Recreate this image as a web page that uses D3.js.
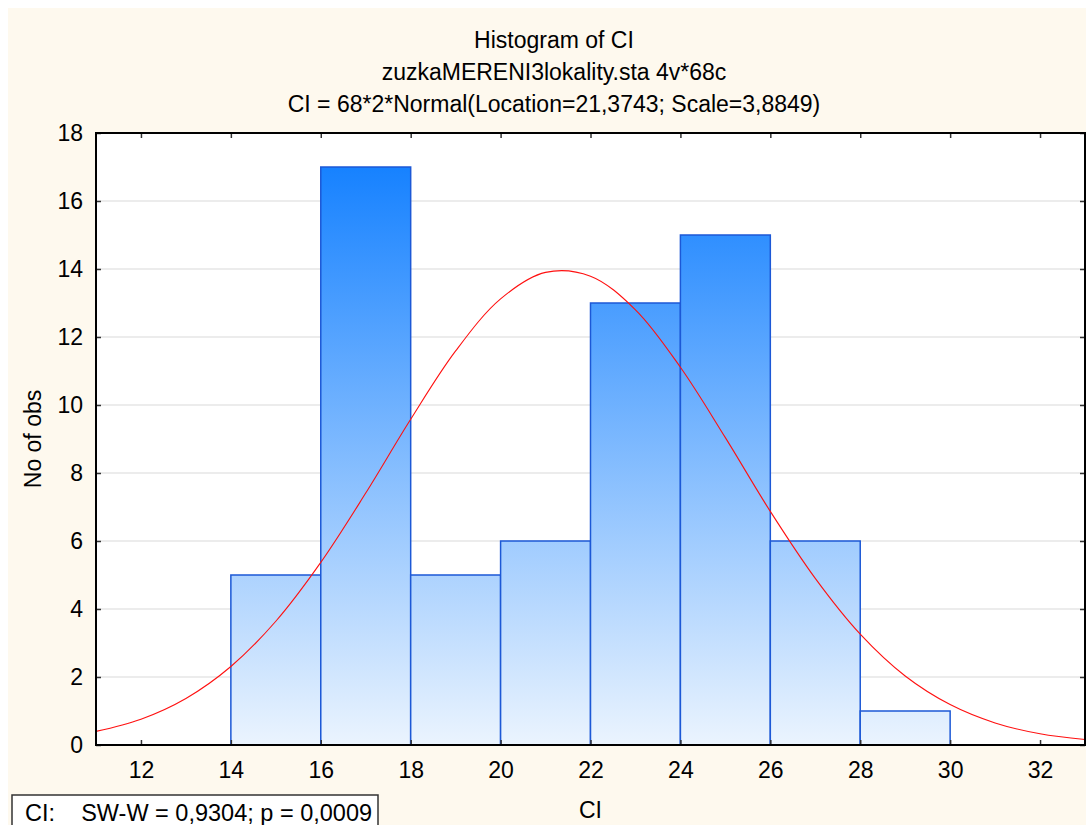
<!DOCTYPE html>
<html>
<head>
<meta charset="utf-8">
<script src="https://cdn.jsdelivr.net/npm/d3@7"></script>
<style>
  html, body { margin: 0; padding: 0; background: #ffffff; }
  svg { display: block; }
  text { font-family: "Liberation Sans", Arial, sans-serif; fill: #000; }
</style>
</head>
<body>
<svg id="chart" width="1086" height="825"></svg>
<script>
// ---- data ----
const binStarts = [14, 16, 18, 20, 22, 24, 26, 28];
const binWidth = 2;
const counts = [5, 17, 5, 6, 13, 15, 6, 1];
const xTicks = [12, 14, 16, 18, 20, 22, 24, 26, 28, 30, 32];
const yTicks = [0, 2, 4, 6, 8, 10, 12, 14, 16, 18];
// fitted normal curve values (x, expected count)
const curveX = [11, 12, 13, 14, 15, 16, 17, 18, 19, 20, 21, 22, 23, 24, 25, 26, 27, 28, 29, 30, 31, 32, 33];
const curveY = [0.40, 0.76, 1.37, 2.31, 3.64, 5.37, 7.41, 9.58, 11.59, 13.12, 13.90, 13.79, 12.80, 11.11, 9.04, 6.87, 4.90, 3.26, 2.03, 1.19, 0.65, 0.33, 0.16];
const titleLines = ["Histogram of CI", "zuzkaMERENI3lokality.sta 4v*68c", "CI = 68*2*Normal(Location=21,3743; Scale=3,8849)"];
const xLabel = "CI";
const yLabel = "No of obs";
const statsText = "CI:    SW-W = 0,9304; p = 0,0009";

// ---- layout ----
const svg = d3.select("#chart");
const L = 96, R = 1085, T = 133, B = 745;
const x = d3.scaleLinear().domain([11, 33]).range([L, R]);
const y = d3.scaleLinear().domain([0, 18]).range([B, T]);
const fs = 23;

// background
svg.append("rect").attr("x", 8).attr("y", 8).attr("width", 1086 - 8).attr("height", 825 - 8).attr("fill", "#fef9ee");

const defs = svg.append("defs");
const grad = defs.append("linearGradient").attr("id", "barGrad")
  .attr("gradientUnits", "userSpaceOnUse")
  .attr("x1", 0).attr("x2", 0).attr("y1", y(18)).attr("y2", y(0));
grad.append("stop").attr("offset", 0).attr("stop-color", "#0a7bff");
grad.append("stop").attr("offset", 1).attr("stop-color", "#ebf4fe");

// plot area
svg.append("rect").attr("x", L).attr("y", T).attr("width", R - L).attr("height", B - T).attr("fill", "#ffffff");

// gridlines
svg.append("g").selectAll("line").data(yTicks.filter(d => d > 0 && d < 18)).join("line")
  .attr("x1", L).attr("x2", R).attr("y1", d => y(d)).attr("y2", d => y(d))
  .attr("stroke", "#d9d9d9").attr("stroke-width", 1.2);

// bars
svg.append("g").selectAll("rect").data(binStarts).join("rect")
  .attr("x", d => x(d)).attr("width", d => x(d + binWidth) - x(d))
  .attr("y", (d, i) => y(counts[i])).attr("height", (d, i) => y(0) - y(counts[i]))
  .attr("fill", "url(#barGrad)").attr("stroke", "#1c58d6").attr("stroke-width", 1.5);

// curve
const pts = curveX.map((d, i) => [d, curveY[i]]);
svg.append("path").datum(pts)
  .attr("d", d3.line().x(d => x(d[0])).y(d => y(d[1])).curve(d3.curveCatmullRom))
  .attr("fill", "none").attr("stroke", "#ff1010").attr("stroke-width", 1.1);

// axes (ticks inside)
const gB = svg.append("g").attr("transform", `translate(0,${B})`)
  .call(d3.axisBottom(x).tickValues(xTicks).tickSizeInner(-5).tickSizeOuter(0).tickPadding(17));
const gT = svg.append("g").attr("transform", `translate(0,${T})`)
  .call(d3.axisTop(x).tickValues(xTicks).tickSizeInner(-5).tickSizeOuter(0).tickFormat(""));
const gL = svg.append("g").attr("transform", `translate(${L},0)`)
  .call(d3.axisLeft(y).tickValues(yTicks).tickSizeInner(-5).tickSizeOuter(0).tickPadding(13));
const gR = svg.append("g").attr("transform", `translate(${R},0)`)
  .call(d3.axisRight(y).tickValues(yTicks).tickSizeInner(-5).tickSizeOuter(0).tickFormat(""));
[gB, gT, gL, gR].forEach(g => {
  g.selectAll(".domain").remove();
  g.selectAll(".tick line").attr("stroke", "#333").attr("stroke-width", 1.5);
  g.selectAll("text").attr("font-size", fs).attr("font-family", "Liberation Sans, Arial, sans-serif").attr("fill", "#000");
});
gB.selectAll("text").attr("dy", "0.71em");

// frame
svg.append("rect").attr("x", L).attr("y", T).attr("width", R - L).attr("height", B - T)
  .attr("fill", "none").attr("stroke", "#000").attr("stroke-width", 2);

// titles
const tcx = 554;
const tby = [48, 80, 112];
svg.append("g").selectAll("text").data(titleLines).join("text")
  .attr("x", tcx).attr("y", (d, i) => tby[i]).attr("text-anchor", "middle")
  .attr("font-size", fs).text(d => d);

// axis labels
svg.append("text").attr("x", (L + R) / 2).attr("y", 818).attr("text-anchor", "middle")
  .attr("font-size", fs).text(xLabel);
svg.append("text").attr("transform", `translate(41,${(T + B) / 2}) rotate(-90)`)
  .attr("text-anchor", "middle").attr("font-size", fs).text(yLabel);

// stats box
svg.append("rect").attr("x", 12).attr("y", 795).attr("width", 366).attr("height", 40)
  .attr("fill", "#ffffff").attr("stroke", "#333").attr("stroke-width", 1.5);
svg.append("text").attr("x", 25).attr("y", 821).attr("font-size", 23.5)
  .style("white-space", "pre").text(statsText);
</script>
</body>
</html>
